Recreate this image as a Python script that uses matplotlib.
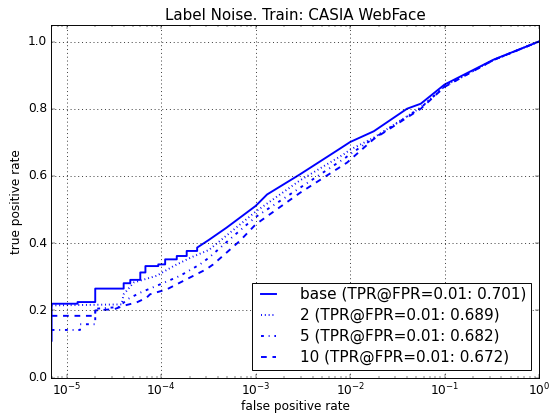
# -*- coding: utf-8 -*-
import matplotlib
matplotlib.use('Agg')
import matplotlib.pyplot as plt
import numpy as np

plt.style.use('classic')
plt.rcParams['font.size'] = 12.7
plt.rcParams['grid.linewidth'] = 0.8

# ROC curves (fpr, tpr)
fpr_base = [6.9e-6, 6.9e-6, 1.3e-5, 1.3e-5, 2.0e-5, 2.0e-5, 4.0e-5, 4.0e-5, 4.7e-5, 4.7e-5,
            6.0e-5, 6.0e-5, 6.8e-5, 6.8e-5, 9.3e-5, 9.3e-5, 1.1e-4, 1.1e-4, 1.46e-4, 1.46e-4,
            1.86e-4, 1.86e-4, 2.4e-4, 2.4e-4, 3.2e-4, 4.9e-4, 1.0e-3, 1.32e-3, 2.95e-3,
            7.2e-3, 1.0e-2, 1.78e-2, 4.0e-2, 5.6e-2, 0.1, 0.33, 1.0]
tpr_base = [0.11, 0.22, 0.22, 0.225, 0.225, 0.265, 0.265, 0.281, 0.281, 0.291,
            0.291, 0.313, 0.313, 0.332, 0.332, 0.337, 0.337, 0.352, 0.352, 0.362,
            0.362, 0.377, 0.377, 0.387, 0.41, 0.446, 0.511, 0.545, 0.605,
            0.675, 0.701, 0.733, 0.80, 0.815, 0.872, 0.946, 1.0]

fpr_2 = [6.9e-6, 3.8e-5, 4.0e-5, 5.1e-5, 8.9e-5, 1.35e-4, 2.04e-4, 3.2e-4, 1.0e-3,
         2.95e-3, 8.5e-3, 1.0e-2, 1.78e-2, 5.6e-2, 0.1, 0.33, 1.0]
tpr_2 = [0.215, 0.218, 0.248, 0.283, 0.303, 0.332, 0.357, 0.38, 0.494,
         0.587, 0.664, 0.678, 0.714, 0.804, 0.868, 0.945, 1.0]

fpr_5 = [6.9e-6, 1.38e-5, 1.38e-5, 2.0e-5, 2.0e-5, 3.5e-5, 4.5e-5, 6.0e-5, 9.8e-5,
         1.58e-4, 2.57e-4, 3.2e-4, 5.75e-4, 1.0e-3, 2.95e-3, 8.9e-3, 1.0e-2, 1.78e-2,
         5.6e-2, 0.1, 0.33, 1.0]
tpr_5 = [0.142, 0.142, 0.159, 0.159, 0.205, 0.21, 0.235, 0.253, 0.278,
         0.303, 0.337, 0.357, 0.42, 0.478, 0.565, 0.654, 0.665, 0.712,
         0.803, 0.866, 0.945, 1.0]

fpr_10 = [6.9e-6, 2.0e-5, 2.0e-5, 3.2e-5, 4.0e-5, 5.5e-5, 7.0e-5, 7.6e-5, 1.15e-4,
          1.86e-4, 3.0e-4, 3.55e-4, 6.8e-4, 1.0e-3, 2.95e-3, 9.3e-3, 1.0e-2, 1.78e-2,
          5.6e-2, 0.1, 0.33, 1.0]
tpr_10 = [0.184, 0.184, 0.20, 0.204, 0.214, 0.224, 0.238, 0.248, 0.263,
          0.293, 0.3225, 0.337, 0.407, 0.456, 0.55, 0.64, 0.648, 0.71,
          0.80, 0.865, 0.945, 1.0]

labels = ['base (TPR@FPR=0.01: 0.701)', '2 (TPR@FPR=0.01: 0.689)',
          '5 (TPR@FPR=0.01: 0.682)', '10 (TPR@FPR=0.01: 0.672)']

fig = plt.figure(figsize=(8, 6.022))
ax = fig.add_axes([0.0927, 0.0877, 0.8873, 0.8526])

ax.plot(fpr_base, tpr_base, 'b-', lw=2, label=labels[0])
ax.plot(fpr_2, tpr_2, 'b:', lw=2, label=labels[1])
ax.plot(fpr_5, tpr_5, 'b-.', lw=2, label=labels[2])
ax.plot(fpr_10, tpr_10, 'b--', lw=2, label=labels[3])

ax.set_xscale('log')
ax.set_xlim(6.8e-6, 1.0)
ax.set_ylim(0.0, 1.05)
ax.set_xlabel('false positive rate', labelpad=2)
ax.set_ylabel('true positive rate')
ax.set_title('Label Noise. Train: CASIA WebFace', fontsize=15.8)
ax.grid(True)
ax.legend(loc='lower right', fontsize=16.0, borderpad=0.3, labelspacing=0.38,
          borderaxespad=0.5, handlelength=1.6, handletextpad=1.3)

fig.savefig('out.png', dpi=68.75)
